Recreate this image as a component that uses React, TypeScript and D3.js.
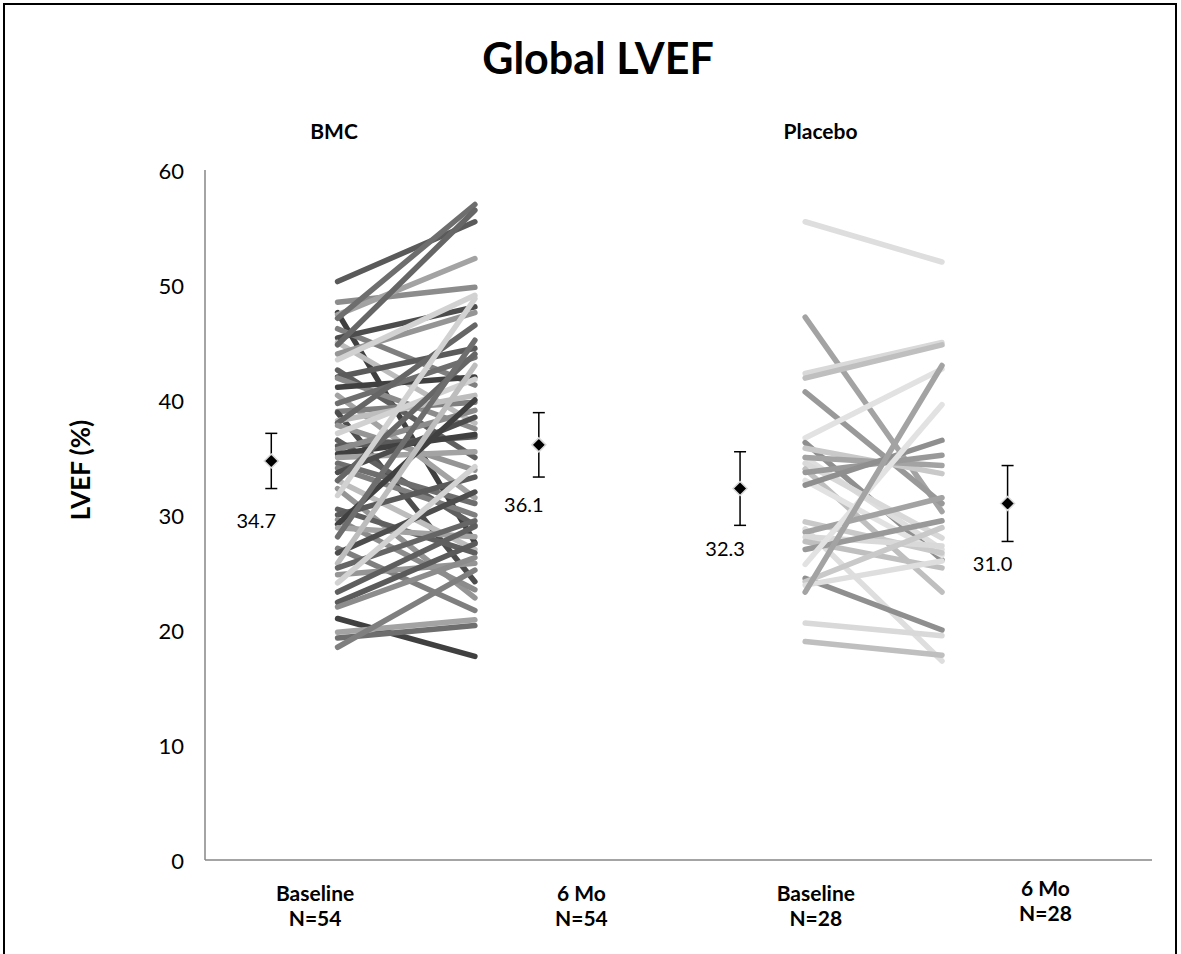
import React from 'react';
import * as d3 from 'd3';

const W = 1181;
const H = 954;

// labels
const title = 'Global LVEF';
const groups = ['BMC', 'Placebo'];
const timepoints = ['Baseline', '6 Mo', 'Baseline', '6 Mo'];
const sampleSizes = ['N=54', 'N=54', 'N=28', 'N=28'];
const yTicks = [0, 10, 20, 30, 40, 50, 60];

// group means with error bars
const meanValues = [34.7, 36.1, 32.3, 31.0];
const meanErrors = [2.4, 2.8, 3.2, 3.3];
const meanLabels = ['34.7', '36.1', '32.3', '31.0'];

// x positions in axis units (axis runs 0..4)
const meanX = [0.28, 1.41, 2.26, 3.39];
const labelX = [0.465, 1.59, 2.58, 3.55];
const groupX = [0.545, 2.6];
const bmcX = [0.56, 1.14];
const placeboX = [2.535, 3.113];

// individual patients, baseline -> 6 months
const bmcBaseline = [
  50.3, 48.5, 47.6, 47.4, 47.1, 46.2, 45.4, 45.0, 44.8, 44.0,
  43.5, 42.6, 42.0, 41.9, 41.1, 40.4, 39.7, 39.0, 38.9, 38.2,
  38.0, 37.8, 37.1, 36.5, 36.0, 35.7, 35.3, 35.0, 34.5, 34.1,
  33.7, 33.0, 33.0, 32.3, 31.7, 30.5, 30.0, 29.6, 29.2, 28.9,
  28.1, 27.1, 26.7, 25.8, 25.4, 24.8, 24.1, 23.3, 22.4, 22.0,
  21.0, 19.8, 19.3, 18.5,
];
const bmc6Mo = [
  55.5, 49.8, 27.6, 52.3, 57.0, 41.3, 48.1, 38.0, 56.5, 47.6,
  49.1, 35.0, 44.5, 37.5, 42.0, 31.5, 43.7, 39.8, 24.2, 40.4,
  46.5, 33.9, 41.8, 29.1, 36.8, 39.1, 37.0, 35.5, 31.0, 30.0,
  38.5, 27.0, 44.0, 22.8, 48.8, 26.7, 33.3, 23.5, 40.0, 28.1,
  45.2, 21.7, 32.0, 43.0, 29.5, 25.8, 34.2, 29.0, 27.5, 26.3,
  17.7, 20.9, 20.4, 25.2,
];
const placeboBaseline = [
  55.5, 47.2, 42.3, 41.9, 40.7, 36.7, 36.3, 35.8, 35.0, 35.0,
  34.5, 34.0, 33.7, 33.0, 32.6, 29.4, 28.8, 28.5, 28.1, 27.7,
  27.0, 25.7, 24.5, 24.2, 23.9, 23.3, 20.6, 19.0,
];
const placebo6Mo = [
  52.0, 30.3, 45.0, 44.8, 31.0, 42.7, 26.1, 33.6, 27.0, 34.3,
  28.0, 23.3, 35.2, 26.5, 36.5, 26.7, 17.3, 31.5, 27.3, 25.4,
  29.5, 39.6, 20.0, 28.9, 26.0, 43.0, 19.5, 17.8,
];

const bmcGrays = ['#5a5a5a', '#8c8c8c', '#404040', '#a3a3a3', '#6e6e6e', '#7f7f7f', '#4d4d4d', '#bdbdbd', '#666666', '#959595', '#d2d2d2', '#5f5f5f'];
const placeboGrays = ['#dedede', '#a3a3a3', '#d9d9d9', '#bfbfbf', '#999999', '#e2e2e2', '#8f8f8f', '#c9c9c9'];

const font = "Lato, 'Open Sans', sans-serif";

export default function App() {
  const x = d3.scaleLinear().domain([0, 4]).range([205, 1152]);
  const y = d3.scaleLinear().domain([0, 60]).range([860, 170]);
  const line = d3.line<[number, number]>().x(d => x(d[0])).y(d => y(d[1]));

  const bmcLines = bmcBaseline.map((v, i) => ({ d: line([[bmcX[0], v], [bmcX[1], bmc6Mo[i]]]), c: bmcGrays[i % bmcGrays.length] }));
  const placeboLines = placeboBaseline.map((v, i) => ({ d: line([[placeboX[0], v], [placeboX[1], placebo6Mo[i]]]), c: placeboGrays[i % placeboGrays.length] }));

  return (
    <svg width={W} height={H} style={{ position: 'absolute', left: 0, top: 0, background: '#fff' }} fontFamily={font}>
      <rect x={4} y={4} width={1172} height={1000} fill="#fff" stroke="#000" strokeWidth={2} />

      <text x={598} y={57} textAnchor="middle" dominantBaseline="central" fontSize={43} fontWeight="bold">{title}</text>
      {groups.map((g, i) => (
        <text key={g} x={x(groupX[i])} y={130} textAnchor="middle" dominantBaseline="central" fontSize={21} fontWeight="bold">{g}</text>
      ))}

      {/* axes */}
      <line x1={x(0)} x2={x(0)} y1={y(60)} y2={y(0)} stroke="#868686" strokeWidth={1.5} />
      <line x1={x(0)} x2={x(4)} y1={y(0)} y2={y(0)} stroke="#868686" strokeWidth={1.5} />
      {yTicks.map(t => (
        <text key={t} x={184} y={y(t)} textAnchor="end" dominantBaseline="central" fontSize={22}>{t}</text>
      ))}
      <text transform={`translate(80,${y(30) - 45}) rotate(-90)`} textAnchor="middle" dominantBaseline="central" fontSize={26} fontWeight="bold">LVEF (%)</text>

      {timepoints.map((t, i) => (
        <g key={i} fontWeight="bold" fontSize={21} textAnchor="middle">
          <text x={x(labelX[i])} y={i === 3 ? 887 : 892} dominantBaseline="central">{t}</text>
          <text x={x(labelX[i])} y={i === 3 ? 912 : 917} dominantBaseline="central">{sampleSizes[i]}</text>
        </g>
      ))}

      {/* patient lines */}
      <g fill="none" strokeWidth={5.5} strokeLinecap="round">
        {bmcLines.map((l, i) => <path key={'b' + i} d={l.d || ''} stroke={l.c} />)}
        {placeboLines.map((l, i) => <path key={'p' + i} d={l.d || ''} stroke={l.c} />)}
      </g>

      {/* means */}
      {meanValues.map((m, i) => {
        const cx = x(meanX[i]);
        const cy = y(m);
        const top = y(m + meanErrors[i]);
        const bot = y(m - meanErrors[i]);
        return (
          <g key={i}>
            <line x1={cx} x2={cx} y1={top} y2={bot} stroke="#000" strokeWidth={1.5} />
            <line x1={cx - 6} x2={cx + 6} y1={top} y2={top} stroke="#000" strokeWidth={1.5} />
            <line x1={cx - 6} x2={cx + 6} y1={bot} y2={bot} stroke="#000" strokeWidth={1.5} />
            <path d={`M${cx},${cy - 7}L${cx + 7},${cy}L${cx},${cy + 7}L${cx - 7},${cy}Z`} fill="#000" stroke="#d9d9d9" strokeWidth={1.5} />
            <text x={cx - 15} y={cy + 59} textAnchor="middle" dominantBaseline="central" fontSize={20}>{meanLabels[i]}</text>
          </g>
        );
      })}
    </svg>
  );
}
